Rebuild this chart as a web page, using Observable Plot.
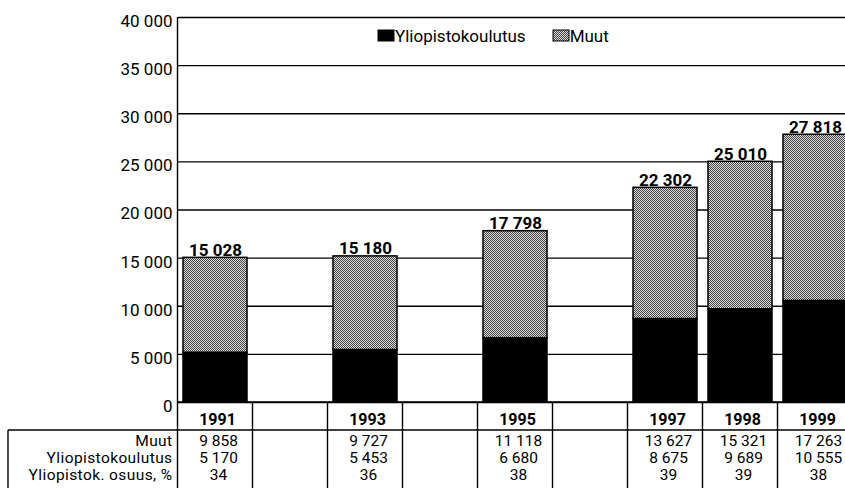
<!DOCTYPE html>
<html>
<head>
<meta charset="utf-8">
<script src="https://cdn.jsdelivr.net/npm/d3@7"></script>
<script src="https://cdn.jsdelivr.net/npm/@observablehq/plot@0.6"></script>
<style>
  html, body { margin: 0; padding: 0; background: white; overflow: hidden; }
  #wrap { position: relative; width: 845px; height: 488px; overflow: hidden; background: white; }
  #legend { position: absolute; left: 378px; top: 19px; }
  .rowlab text { letter-spacing: 0.4px; }
</style>
</head>
<body>
<div id="wrap">
  <svg width="0" height="0" style="position:absolute">
    <defs>
      <pattern id="dither" width="2" height="2" patternUnits="userSpaceOnUse">
        <rect width="2" height="2" fill="#dcdcdc"></rect>
        <rect width="1" height="1" fill="#444"></rect>
        <rect x="1" y="1" width="1" height="1" fill="#444"></rect>
      </pattern>
    </defs>
  </svg>
</div>
<script>
const FONT = 'Roboto, "Liberation Sans", sans-serif';

// ---- data ----
const xDomain = [1991, 1992, 1993, 1994, 1995, 1996, 1997, 1998, 1999];
const years = [1991, 1993, 1995, 1997, 1998, 1999];
const muut = [9858, 9727, 11118, 13627, 15321, 17263];
const yliopisto = [5170, 5453, 6680, 8675, 9689, 10555];
const osuus = [34, 36, 38, 39, 39, 38];
const totals = [15028, 15180, 17798, 22302, 25010, 27818];
const series = ["Yliopistokoulutus", "Muut"];
const rowLabels = ["Muut", "Yliopistokoulutus", "Yliopistok. osuus, %"];
const yTicks = [0, 5000, 10000, 15000, 20000, 25000, 30000, 35000, 40000];

const fmt = v => d3.format(",")(v).replace(/,/g, " ");

const stacked = [];
years.forEach((yr, i) => {
  stacked.push({year: yr, series: series[0], value: yliopisto[i]});
  stacked.push({year: yr, series: series[1], value: muut[i]});
});
const totalData = years.map((yr, i) => ({year: yr, total: totals[i]}));
const rowData = [muut, yliopisto, osuus].map(arr => years.map((yr, i) => ({year: yr, v: arr[i]})));

const colorRange = ["black", "url(#dither)"];

const rowDy = [39, 56, 73];

const chart = Plot.plot({
  width: 845,
  height: 488,
  marginTop: 17,
  marginBottom: 86,
  marginLeft: 178,
  marginRight: 0,
  style: {fontFamily: FONT, fontSize: "15px", color: "black", background: "white", overflow: "hidden"},
  x: {type: "band", domain: xDomain, range: [177.5, 852.5], paddingInner: 0.15, paddingOuter: 0.075, axis: null},
  y: {domain: [0, 40000], axis: null},
  color: {domain: series, range: colorRange},
  marks: [
    Plot.gridY(yTicks, {stroke: "black", strokeOpacity: 1, strokeWidth: 1.3}),
    Plot.axisY(yTicks, {tickFormat: fmt, tickSize: 0, tickPadding: 6, fontSize: 17, dy: 4, label: null}),
    Plot.barY(stacked, {x: "year", y: "value", fill: "series", stroke: "black", strokeWidth: 1.5, order: series}),
    Plot.text(totalData, {x: "year", y: "total", text: d => fmt(d.total), lineAnchor: "bottom", dy: -2, fontSize: 17, fontWeight: "bold"}),
    Plot.text(years, {x: d => d, y: () => 0, text: d => String(d), dy: 17, dx: 2, fontSize: 16, fontWeight: "bold"}),
    ...rowData.map((row, r) => Plot.text(row, {x: "year", y: () => 0, text: d => fmt(d.v), dy: rowDy[r], dx: 3, fontSize: 15.5})),
    ...rowLabels.map((lab, r) => Plot.text([lab], {frameAnchor: "left", y: () => 0, text: d => d, textAnchor: "end", dx: -6, dy: rowDy[r], fontSize: 15.5, className: "rowlab"}))
  ]
});

document.getElementById("wrap").appendChild(chart);

// table lines using the chart's own scales
const sx = chart.scale("x");
const sy = chart.scale("y");
const svg = d3.select(chart);
const y0 = sy.apply(0);
const yTop = sy.apply(40000);
const H = 488;
const gap = (sx.step - sx.bandwidth) / 2;
const g = svg.append("g").attr("stroke", "black").attr("fill", "none");
const bounds = xDomain.map(v => sx.apply(v) - gap).concat([sx.apply(xDomain[xDomain.length - 1]) + sx.bandwidth + gap]);
bounds.forEach((bx, i) => {
  g.append("line").attr("x1", bx).attr("x2", bx).attr("y1", i === 0 ? yTop : y0).attr("y2", H).attr("stroke-width", 1.4);
});
g.append("line").attr("x1", bounds[0]).attr("x2", 845).attr("y1", y0).attr("y2", y0).attr("stroke-width", 1.6);
const yRow = y0 + 28;
g.append("line").attr("x1", 8).attr("x2", 845).attr("y1", yRow).attr("y2", yRow).attr("stroke-width", 1.6);
g.append("line").attr("x1", 8).attr("x2", 8).attr("y1", yRow).attr("y2", H).attr("stroke-width", 1.4);

// legend
const legend = Plot.legend({
  color: {domain: series, range: colorRange},
  legend: "swatches",
  swatchWidth: 16,
  swatchHeight: 11,
  className: "lg",
  style: {fontFamily: FONT, fontSize: "17px", color: "black"}
});
const ld = document.createElement("div");
ld.id = "legend";
ld.appendChild(legend);
document.getElementById("wrap").appendChild(ld);
const st = document.createElement("style");
st.textContent = `.lg-swatch { margin-right: 27px !important; } .lg-swatch > svg { margin-right: 1px !important; } .lg-swatch svg rect { stroke: black; stroke-width: 1; }`;
document.head.appendChild(st);
</script>
</body>
</html>
